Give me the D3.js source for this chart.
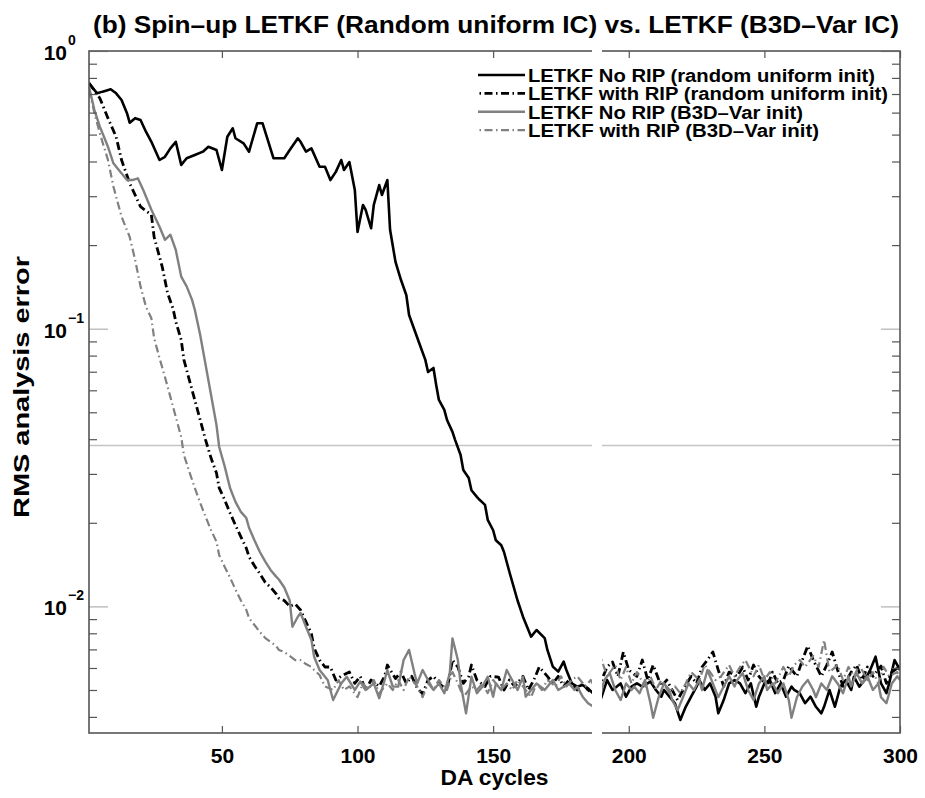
<!DOCTYPE html>
<html lang="en">
<head>
<meta charset="UTF-8">
<title>Spin-up LETKF (Random uniform IC) vs. LETKF (B3D-Var IC)</title>
<script src="https://cdn.jsdelivr.net/npm/d3@7"></script>
<style>
    body { margin: 0; background: #fff; }
    text { font-family: 'Liberation Sans', Arial, Helvetica, sans-serif; font-weight: bold; fill: #000; }
</style>
</head>
<body>
<script>
    // values: [DA cycle, RMS analysis error]
    const noRipRandom = [[1,0.765],[4,0.704],[6,0.714],[9,0.728],[11,0.704],[13,0.666],[15,0.597],[16,0.552],[18,0.573],[20,0.564],[22,0.512],[24,0.471],[27,0.405],[29,0.416],[31,0.446],[33,0.471],[35,0.389],[37,0.411],[40,0.422],[43,0.434],[45,0.452],[48,0.440],[50,0.373],[52,0.491],[54,0.527],[55,0.485],[58,0.465],[60,0.434],[63,0.549],[65,0.549],[69,0.411],[73,0.411],[75,0.440],[78,0.485],[79,0.471],[81,0.434],[83,0.446],[86,0.383],[88,0.383],[90,0.343],[92,0.367],[94,0.405],[95,0.373],[97,0.398],[99,0.316],[100,0.223],[102,0.279],[103,0.268],[105,0.230],[106,0.279],[108,0.329],[109,0.303],[111,0.343],[112,0.227],[114,0.174],[116,0.150],[118,0.132],[119,0.112],[121,0.0989],[123,0.0874],[125,0.0772],[126,0.0698],[128,0.0722],[129,0.0627],[130,0.0554],[132,0.0510],[133,0.0469],[135,0.0425],[136,0.0397],[138,0.0351],[139,0.0310],[141,0.0290],[142,0.0262],[144,0.0248],[145,0.0242],[147,0.0232],[148,0.0205],[150,0.0188],[151,0.0173],[153,0.0166],[154,0.0157],[156,0.0133],[159,0.0105],[161,0.00918],[164,0.00778],[166,0.00822],[169,0.00769],[170,0.00697],[172,0.00607],[174,0.00582],[176,0.00632],[177,0.00590],[179,0.00528],[181,0.00514],[183,0.00521],[185,0.00507],[188,0.00473],[189,0.00442],[192,0.00543],[194,0.00500],[197,0.00528],[199,0.00473],[201,0.00514],[203,0.00528],[205,0.00514],[208,0.00536],[210,0.00500],[212,0.00473],[213,0.00500],[215,0.00473],[217,0.00448],[219,0.00390],[221,0.00435],[223,0.00473],[225,0.00514],[226,0.00543],[228,0.00500],[230,0.00528],[232,0.00473],[233,0.00412],[235,0.00460],[237,0.00528],[239,0.00543],[241,0.00528],[243,0.00487],[245,0.00528],[247,0.00435],[248,0.00473],[250,0.00528],[252,0.00543],[254,0.00487],[256,0.00528],[258,0.00473],[260,0.00514],[261,0.00500],[263,0.00487],[265,0.00448],[267,0.00473],[269,0.00435],[271,0.00412],[272,0.00435],[274,0.00500],[276,0.00435],[278,0.00514],[280,0.00543],[282,0.00500],[283,0.00558],[285,0.00514],[287,0.00543],[289,0.00590],[291,0.00659],[293,0.00528],[295,0.00487],[296,0.00528],[298,0.00641],[300,0.00590]];

    const ripRandom = [[1,0.767],[5,0.676],[8,0.573],[11,0.491],[13,0.405],[16,0.334],[20,0.275],[24,0.257],[25,0.214],[28,0.167],[30,0.134],[32,0.118],[33,0.106],[35,0.0911],[36,0.0772],[38,0.0653],[40,0.0554],[42,0.0469],[44,0.0397],[46,0.0342],[48,0.0302],[49,0.0267],[51,0.0242],[53,0.0217],[55,0.0196],[57,0.0178],[59,0.0162],[60,0.0151],[62,0.0140],[64,0.0131],[66,0.0122],[68,0.0117],[70,0.0111],[71,0.0107],[73,0.0105],[75,0.0100],[77,0.0102],[79,0.00971],[81,0.00879],[83,0.00796],[84,0.00708],[86,0.00641],[88,0.00605],[90,0.00605],[92,0.00543],[94,0.00561],[97,0.00580],[99,0.00528],[101,0.00560],[103,0.00500],[105,0.00543],[108,0.00515],[110,0.00561],[111,0.00615],[114,0.00550],[116,0.00580],[118,0.00528],[120,0.00560],[122,0.00508],[124,0.00484],[126,0.00543],[128,0.00560],[130,0.00528],[133,0.00500],[135,0.00641],[137,0.00605],[139,0.00528],[141,0.00560],[142,0.00615],[144,0.00543],[147,0.00515],[149,0.00560],[152,0.00556],[154,0.00500],[156,0.00543],[158,0.00515],[161,0.00560],[163,0.00500],[165,0.00543],[167,0.00605],[170,0.00560],[172,0.00528],[174,0.00560],[176,0.00515],[178,0.00543],[181,0.00500],[183,0.00528],[185,0.00500],[187,0.00484],[189,0.00515],[192,0.00605],[194,0.00631],[196,0.00560],[198,0.00685],[200,0.00590],[203,0.00560],[205,0.00641],[207,0.00543],[209,0.00615],[212,0.00515],[214,0.00543],[216,0.00500],[218,0.00460],[220,0.00500],[223,0.00560],[225,0.00528],[227,0.00605],[229,0.00641],[231,0.00685],[233,0.00590],[235,0.00515],[237,0.00580],[240,0.00560],[242,0.00605],[244,0.00543],[246,0.00615],[248,0.00560],[251,0.00515],[253,0.00580],[255,0.00528],[257,0.00543],[259,0.00610],[262,0.00560],[264,0.00641],[266,0.00720],[268,0.00641],[271,0.00560],[273,0.00615],[275,0.00685],[277,0.00590],[279,0.00515],[282,0.00580],[284,0.00615],[286,0.00543],[288,0.00605],[290,0.00560],[293,0.00610],[295,0.00528],[297,0.00580],[300,0.00610]];

    const noRipB3D = [[1,0.744],[3,0.613],[5,0.534],[8,0.452],[10,0.394],[12,0.373],[15,0.343],[17,0.343],[19,0.348],[21,0.316],[24,0.268],[27,0.233],[29,0.209],[31,0.218],[33,0.192],[35,0.154],[37,0.142],[39,0.127],[40,0.117],[42,0.0949],[44,0.0740],[46,0.0577],[48,0.0450],[49,0.0375],[51,0.0320],[53,0.0267],[55,0.0238],[57,0.0219],[59,0.0208],[60,0.0192],[62,0.0173],[64,0.0157],[66,0.0145],[68,0.0135],[70,0.0128],[71,0.0125],[73,0.0117],[75,0.0105],[76,0.00845],[78,0.00918],[79,0.00947],[81,0.00845],[83,0.00757],[84,0.00659],[86,0.00590],[89,0.00543],[91,0.00460],[94,0.00528],[96,0.00558],[99,0.00500],[101,0.00536],[103,0.00500],[106,0.00528],[108,0.00467],[110,0.00543],[111,0.00590],[113,0.00514],[115,0.00514],[117,0.00641],[119,0.00697],[121,0.00574],[122,0.00528],[124,0.00590],[126,0.00543],[128,0.00500],[130,0.00528],[132,0.00487],[134,0.00574],[135,0.00767],[137,0.00641],[138,0.00528],[140,0.00412],[142,0.00558],[144,0.00487],[146,0.00514],[148,0.00558],[150,0.00473],[151,0.00528],[153,0.00500],[155,0.00590],[157,0.00543],[159,0.00500],[161,0.00558],[162,0.00473],[164,0.00500],[166,0.00528],[169,0.00500],[170,0.00514],[172,0.00543],[174,0.00500],[176,0.00514],[178,0.00528],[180,0.00500],[181,0.00514],[183,0.00473],[185,0.00448],[187,0.00435],[189,0.00454],[191,0.00543],[193,0.00575],[195,0.00500],[197,0.00460],[199,0.00528],[201,0.00500],[202,0.00515],[204,0.00487],[206,0.00543],[208,0.00448],[209,0.00397],[211,0.00471],[213,0.00528],[215,0.00500],[216,0.00460],[218,0.00423],[220,0.00471],[222,0.00528],[224,0.00500],[226,0.00543],[227,0.00500],[229,0.00590],[231,0.00528],[233,0.00471],[235,0.00515],[237,0.00560],[239,0.00515],[240,0.00543],[242,0.00575],[244,0.00500],[246,0.00460],[248,0.00528],[250,0.00560],[251,0.00500],[253,0.00528],[255,0.00487],[257,0.00528],[259,0.00460],[260,0.00397],[262,0.00471],[264,0.00515],[266,0.00543],[268,0.00500],[269,0.00471],[271,0.00528],[273,0.00500],[275,0.00560],[277,0.00528],[279,0.00487],[281,0.00560],[282,0.00515],[284,0.00575],[286,0.00528],[288,0.00560],[290,0.00500],[292,0.00528],[293,0.00471],[295,0.00448],[297,0.00528],[299,0.00560],[300,0.00543]];

    const ripB3D = [[1,0.724],[3,0.597],[5,0.505],[8,0.405],[10,0.325],[13,0.253],[16,0.214],[18,0.177],[20,0.142],[22,0.120],[24,0.109],[25,0.0926],[27,0.0784],[29,0.0670],[31,0.0568],[33,0.0481],[35,0.0407],[36,0.0351],[38,0.0305],[40,0.0267],[42,0.0236],[44,0.0210],[46,0.0188],[48,0.0171],[49,0.0153],[51,0.0139],[53,0.0127],[55,0.0115],[57,0.0105],[59,0.00971],[60,0.00908],[62,0.00857],[64,0.00809],[66,0.00769],[68,0.00744],[70,0.00720],[71,0.00697],[73,0.00685],[75,0.00663],[77,0.00641],[79,0.00641],[81,0.00620],[83,0.00605],[84,0.00590],[86,0.00566],[88,0.00515],[91,0.00500],[93,0.00543],[95,0.00500],[97,0.00515],[100,0.00471],[102,0.00528],[104,0.00500],[106,0.00543],[108,0.00487],[111,0.00528],[113,0.00500],[115,0.00543],[117,0.00500],[119,0.00560],[122,0.00515],[124,0.00471],[126,0.00528],[128,0.00500],[130,0.00543],[133,0.00500],[135,0.00580],[137,0.00528],[139,0.00471],[142,0.00515],[144,0.00500],[146,0.00528],[148,0.00487],[150,0.00543],[153,0.00500],[155,0.00528],[157,0.00500],[159,0.00543],[161,0.00515],[164,0.00471],[166,0.00528],[168,0.00500],[170,0.00543],[173,0.00515],[175,0.00560],[177,0.00515],[179,0.00543],[181,0.00560],[184,0.00515],[186,0.00543],[188,0.00500],[190,0.00641],[192,0.00560],[195,0.00615],[197,0.00543],[199,0.00605],[201,0.00528],[203,0.00580],[206,0.00515],[208,0.00560],[210,0.00500],[212,0.00543],[215,0.00487],[217,0.00515],[219,0.00487],[221,0.00528],[223,0.00580],[226,0.00543],[228,0.00615],[230,0.00580],[232,0.00543],[234,0.00560],[237,0.00615],[239,0.00560],[241,0.00605],[243,0.00641],[246,0.00560],[248,0.00615],[250,0.00543],[252,0.00580],[254,0.00528],[257,0.00605],[259,0.00560],[261,0.00615],[263,0.00641],[265,0.00605],[268,0.00663],[270,0.00605],[272,0.00757],[274,0.00580],[277,0.00615],[279,0.00543],[281,0.00605],[283,0.00560],[285,0.00615],[288,0.00543],[290,0.00580],[292,0.00528],[294,0.00605],[296,0.00560],[299,0.00580],[300,0.00543]];

    const seriesNames = ["LETKF No RIP (random uniform init)", "LETKF with RIP (random uniform init)",
                         "LETKF No RIP (B3D\u2013Var init)", "LETKF with RIP (B3D\u2013Var init)"];
    const xTicks = [50, 100, 150, 200, 250, 300];
    const yMajor = [1, 0.1, 0.01];
    const yMajorExp = ["0", "\u22121", "\u22122"];
    const yMinor = [0.9, 0.8, 0.7, 0.6, 0.5, 0.4, 0.3, 0.2, 0.09, 0.08, 0.07, 0.06, 0.05, 0.04, 0.03, 0.02,
                    0.009, 0.008, 0.007, 0.006, 0.005, 0.004];
    const refLevel = 0.038;

    const W = 925, H = 798;
    const pLeft = 89, pRight = 900, pTop = 51, pBottom = 733;

    const svg = d3.select("body").append("svg").attr("width", W).attr("height", H);

    const x = d3.scaleLinear().domain([1, 300]).range([pLeft, pRight]);
    const y = d3.scaleLog().domain([0.0035, 1]).range([pBottom, pTop]);

    svg.append("defs").append("clipPath").attr("id", "plotclip")
        .append("rect").attr("x", pLeft).attr("y", pTop).attr("width", pRight - pLeft).attr("height", pBottom - pTop);

    // reference level
    svg.append("line")
        .attr("x1", pLeft).attr("x2", pRight).attr("y1", y(refLevel)).attr("y2", y(refLevel))
        .attr("stroke", "#c4c4c4").attr("stroke-width", 1.5);

    const line = d3.line().x(d => x(d[0])).y(d => y(d[1]));

    const styles = [
        {color: "#000", width: 2.6, dash: null},
        {color: "#000", width: 2.8, dash: "8,3.5,1.5,3.5"},
        {color: "#808080", width: 2.4, dash: null},
        {color: "#808080", width: 2.2, dash: "8,3.5,1.5,3.5"}
    ];
    const allSeries = [noRipRandom, ripRandom, noRipB3D, ripB3D];

    const plot = svg.append("g").attr("clip-path", "url(#plotclip)");
    allSeries.forEach((s, i) => {
        plot.append("path")
            .datum(s)
            .attr("d", line)
            .attr("fill", "none")
            .attr("stroke", styles[i].color)
            .attr("stroke-width", styles[i].width)
            .attr("stroke-linejoin", "round")
            .attr("stroke-dasharray", styles[i].dash);
    });

    // ticks
    const tickColor = "#555";
    svg.append("g").attr("transform", `translate(0,${pBottom})`)
        .call(d3.axisBottom(x).tickValues(xTicks).tickSize(-7).tickPadding(15))
        .call(g => g.select(".domain").remove())
        .call(g => g.selectAll("line").attr("stroke", tickColor).attr("stroke-width", 1.2))
        .call(g => g.selectAll("text").style("font-size", "21px").attr("fill", "#000"));
    svg.append("g").attr("transform", `translate(0,${pTop})`)
        .call(d3.axisTop(x).tickValues(xTicks).tickSize(-7).tickFormat(""))
        .call(g => g.select(".domain").remove())
        .call(g => g.selectAll("line").attr("stroke", tickColor).attr("stroke-width", 1.2));

    [[d3.axisLeft, pLeft], [d3.axisRight, pRight]].forEach(([ax, pos]) => {
        svg.append("g").attr("transform", `translate(${pos},0)`)
            .call(ax(y).tickValues(yMinor).tickSize(-8).tickFormat(""))
            .call(g => g.select(".domain").remove())
            .call(g => g.selectAll("line").attr("stroke", tickColor).attr("stroke-width", 1.2));
        svg.append("g").attr("transform", `translate(${pos},0)`)
            .call(ax(y).tickValues(yMajor).tickSize(-19).tickFormat(""))
            .call(g => g.select(".domain").remove())
            .call(g => g.selectAll("line").attr("stroke", "#b0b0b0").attr("stroke-width", 1.2));
    });

    // frame
    svg.append("rect")
        .attr("x", pLeft).attr("y", pTop).attr("width", pRight - pLeft).attr("height", pBottom - pTop)
        .attr("fill", "none").attr("stroke", "#555").attr("stroke-width", 1.6);

    // break in the figure
    svg.append("rect").attr("x", 592).attr("y", pTop - 4).attr("width", 10).attr("height", pBottom - pTop + 8)
        .attr("fill", "#fff");

    // y tick labels 10^n
    svg.selectAll("text.ybase").data(yMajor).join("text")
        .attr("class", "ybase")
        .attr("x", 67).attr("y", d => y(d) + 9)
        .attr("text-anchor", "end")
        .style("font-size", "21px")
        .text("10");
    svg.selectAll("text.yexp").data(yMajor).join("text")
        .attr("class", "yexp")
        .attr("x", 68).attr("y", d => y(d) - 6)
        .style("font-size", "14px")
        .text((d, i) => yMajorExp[i]);

    // titles
    svg.append("text")
        .attr("x", 496).attr("y", 33)
        .attr("text-anchor", "middle")
        .attr("textLength", 806).attr("lengthAdjust", "spacingAndGlyphs")
        .style("font-size", "24px")
        .text("(b) Spin\u2013up LETKF (Random uniform IC) vs. LETKF (B3D\u2013Var IC)");

    svg.append("text")
        .attr("x", (pLeft + pRight) / 2).attr("y", 785)
        .attr("text-anchor", "middle")
        .attr("textLength", 108).attr("lengthAdjust", "spacingAndGlyphs")
        .style("font-size", "22px")
        .text("DA cycles");

    svg.append("text")
        .attr("transform", `translate(29,387) rotate(-90)`)
        .attr("text-anchor", "middle")
        .attr("textLength", 262).attr("lengthAdjust", "spacingAndGlyphs")
        .style("font-size", "22px")
        .text("RMS analysis error");

    // legend
    const legend = svg.append("g");
    const legendWidths = [347, 360, 275, 291];
    seriesNames.forEach((name, i) => {
        const ly = 75 + i * 18.4;
        legend.append("line")
            .attr("x1", 478).attr("x2", 525).attr("y1", ly).attr("y2", ly)
            .attr("stroke", styles[i].color)
            .attr("stroke-width", styles[i].width)
            .attr("stroke-dasharray", styles[i].dash)
            .attr("stroke-dashoffset", styles[i].dash ? 10 : null);
        legend.append("text")
            .attr("x", 528).attr("y", ly + 7)
            .attr("textLength", legendWidths[i]).attr("lengthAdjust", "spacingAndGlyphs")
            .style("font-size", "18px")
            .text(name);
    });
</script>
</body>
</html>
